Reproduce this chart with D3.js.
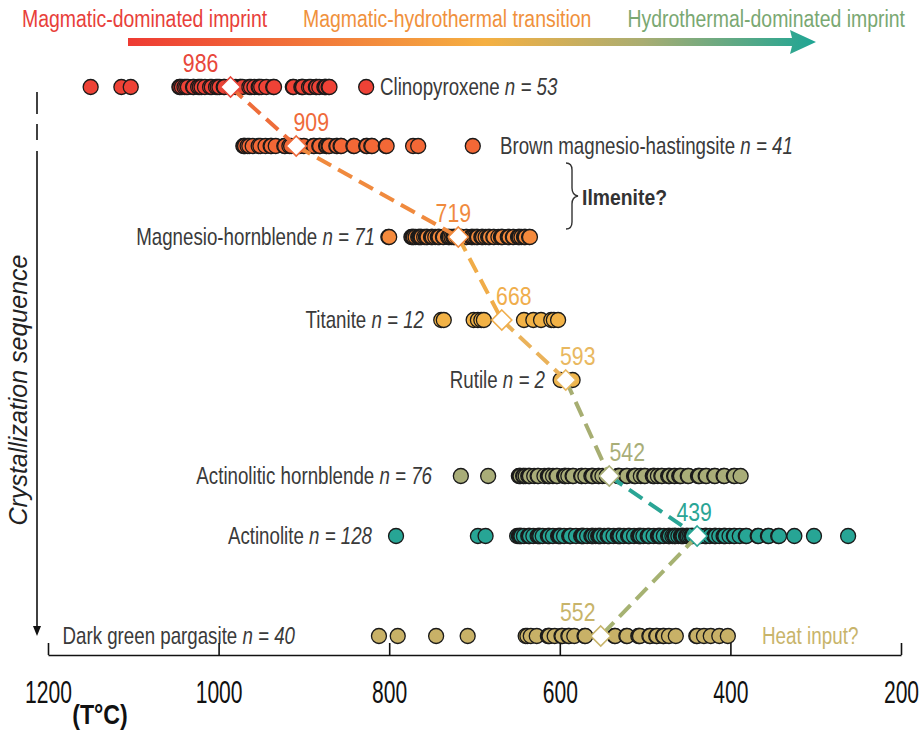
<!DOCTYPE html>
<html>
<head>
<meta charset="utf-8">
<script src="https://cdn.jsdelivr.net/npm/d3@7"></script>
<style>
  body { margin: 0; background: #fff; }
  svg text { font-family: "Liberation Sans", Arial, sans-serif; }
</style>
</head>
<body>
<div id="chart"></div>
<script>
// Minerals in crystallization order
const minerals = ["Clinopyroxene", "Brown magnesio-hastingsite", "Magnesio-hornblende", "Titanite",
    "Rutile", "Actinolitic hornblende", "Actinolite", "Dark green pargasite"];
const counts = [53, 41, 71, 12, 2, 76, 128, 40];
const means = [986, 909, 719, 668, 593, 542, 439, 552];
const fills = ["#ee4236", "#f36836", "#f58a3c", "#f2b246", "#f0b64c", "#a9ad78", "#27a595", "#c8b167"];
const meanColors = ["#e8473a", "#ef6a3a", "#f08a3e", "#f0ae4c", "#e9b860", "#a9ae78", "#2aa595", "#c8b46a"];
const lineColors = ["#e8503a", "#ee6d3a", "#f08a3e", "#f0ac48", "#eab25a", "#a7ae72", "#2aa595", "#a6b272"];

const cpxT = [1150, 1114, 1103, 1046, 1045, 1043, 1040, 1038, 1036, 1030, 1029, 1024, 1022, 1020, 1016, 1010,
    1008, 1003, 1001, 999, 994, 993, 986, 984, 980, 975, 974, 972, 964, 962, 958, 953, 952, 950, 944, 936,
    935, 913, 912, 903, 902, 901, 894, 892, 886, 885, 882, 876, 875, 874, 871, 870, 827];
const brownT = [971, 970, 969, 966, 964, 960, 953, 951, 945, 939, 938, 933, 923, 922, 917, 915, 905, 900,
    889, 888, 882, 881, 874, 873, 871, 870, 862, 861, 857, 856, 842, 841, 827, 826, 821, 820, 804, 803, 772,
    766, 702];
const mhbT = [801, 800, 774, 773, 772, 771, 769, 766, 765, 764, 763, 762, 759, 757, 756, 755, 751, 750, 749,
    746, 743, 742, 741, 737, 736, 731, 730, 729, 727, 725, 724, 723, 720, 716, 715, 710, 709, 704, 703, 702,
    700, 698, 697, 696, 692, 691, 690, 687, 684, 683, 682, 678, 677, 672, 669, 668, 667, 661, 660, 659, 655,
    654, 649, 648, 647, 645, 642, 641, 640, 636, 635];
const ttnT = [739, 736, 701, 696, 692, 689, 642, 631, 622, 610, 607, 602];
const rtT = [599, 585];
const acthbT = [716, 684, 648, 647, 646, 643, 642, 640, 637, 636, 635, 630, 626, 625, 618, 614, 613, 612, 608,
    604, 603, 595, 594, 593, 590, 585, 584, 575, 574, 570, 563, 562, 561, 555, 554, 550, 545, 532, 531, 530,
    522, 521, 513, 512, 511, 505, 501, 500, 491, 490, 489, 485, 481, 480, 473, 472, 471, 466, 465, 460, 459,
    458, 450, 449, 438, 437, 436, 429, 428, 419, 418, 408, 407, 396, 395, 388];
const actT = [792, 696, 687, 650, 648, 647, 646, 645, 642, 637, 636, 635, 631, 626, 625, 624, 623, 620, 614,
    613, 612, 608, 602, 601, 600, 599, 595, 589, 588, 587, 581, 575, 574, 573, 572, 568, 563, 562, 561, 558,
    555, 554, 553, 552, 548, 544, 543, 542, 537, 532, 531, 530, 529, 525, 520, 519, 518, 513, 508, 507, 506,
    505, 502, 497, 496, 495, 490, 485, 484, 483, 482, 478, 473, 472, 471, 468, 466, 465, 464, 461, 458, 457,
    456, 455, 452, 451, 450, 448, 446, 445, 444, 440, 439, 438, 435, 430, 429, 428, 424, 419, 418, 417, 413,
    408, 407, 406, 401, 396, 395, 389, 382, 381, 368, 367, 356, 355, 344, 343, 325, 302, 262];
const pargT = [812, 790, 745, 708, 640, 638, 634, 627, 614, 613, 612, 606, 598, 597, 590, 589, 583, 571, 570,
    536, 535, 522, 521, 508, 507, 506, 495, 494, 487, 486, 479, 478, 472, 464, 440, 439, 431, 423, 413, 403];
const samples = [cpxT, brownT, mhbT, ttnT, rtT, acthbT, actT, pargT];

const xTicks = [1200, 1000, 800, 600, 400, 200];
const stages = ["Magmatic-dominated imprint", "Magmatic-hydrothermal transition", "Hydrothermal-dominated imprint"];
const stageColors = ["#e8403a", "#f0913c", "#7aa872"];

// layout
const W = 919, H = 730;
const rowY = [87, 146, 237, 320, 380, 476, 536, 636];
const labelSide = ["start", "start", "end", "end", "end", "end", "end", "end"];
const labelX = [380, 500, 375, 424, 545, 432, 372, 295];
const meanDx = [-30, 15, -5, 12, 12, 18, -3, -23];

// condensed look: squeeze glyphs horizontally
function narrow(sel, sx) {
    sel.each(function() {
        const t = d3.select(this);
        const tx = +t.attr("x") || 0, ty = +t.attr("y") || 0;
        t.attr("x", null).attr("y", null)
            .attr("transform", `translate(${tx},${ty}) scale(${sx},1)`);
    });
}

const svg = d3.select("#chart").append("svg")
    .attr("width", W).attr("height", H);

const x = d3.scaleLinear().domain([1200, 200]).range([48, 901]);
const y = d3.scaleOrdinal().domain(minerals).range(rowY);

const defs = svg.append("defs");

// stage header with gradient arrow
const hdr = svg.append("g");
hdr.selectAll("text.stage")
    .data(stages)
    .join("text")
    .attr("class", "stage")
    .attr("x", (d, i) => [22, 303, 905][i])
    .attr("y", 27)
    .attr("text-anchor", (d, i) => i === 2 ? "end" : "start")
    .style("font-size", "24px")
    .style("fill", (d, i) => stageColors[i])
    .text(d => d)
    .call(narrow, 0.81);

const arrowGrad = defs.append("linearGradient")
    .attr("id", "arrow-grad")
    .attr("gradientUnits", "userSpaceOnUse")
    .attr("x1", 128).attr("x2", 815).attr("y1", 0).attr("y2", 0);
arrowGrad.selectAll("stop")
    .data([
        {offset: "0%", color: "#ee3b33"},
        {offset: "28%", color: "#f27a3a"},
        {offset: "52%", color: "#f5b042"},
        {offset: "75%", color: "#a9ad72"},
        {offset: "100%", color: "#1fa594"}
    ])
    .join("stop")
    .attr("offset", d => d.offset)
    .attr("stop-color", d => d.color);

hdr.append("path")
    .attr("d", "M128,38 L792,38 L790,30 L816,42 L790,54 L792,46 L128,46 Z")
    .style("fill", "url(#arrow-grad)");

// crystallization sequence arrow on the left
const seq = svg.append("g").style("stroke", "#111").style("stroke-width", 1.6);
seq.append("line").attr("x1", 37).attr("x2", 37).attr("y1", 92).attr("y2", 114);
seq.append("line").attr("x1", 37).attr("x2", 37).attr("y1", 124).attr("y2", 140);
seq.append("line").attr("x1", 37).attr("x2", 37).attr("y1", 151).attr("y2", 628);
svg.append("path")
    .attr("d", "M33,626 L37,636 L41,626 Z")
    .style("fill", "#111");
svg.append("text")
    .attr("transform", "translate(27,390) rotate(-90)")
    .attr("text-anchor", "middle")
    .style("font-size", "25px")
    .style("font-style", "italic")
    .style("fill", "#222")
    .text("Crystallization sequence");

// data points
const pointData = samples.flatMap((vals, i) => vals.map(v => ({ mineral: minerals[i], t: v, i })));
svg.append("g")
    .selectAll("circle")
    .data(pointData)
    .join("circle")
    .attr("cx", d => x(d.t))
    .attr("cy", d => y(d.mineral))
    .attr("r", 7.5)
    .style("fill", d => fills[d.i])
    .style("stroke", "#1a1a1a")
    .style("stroke-width", 1.3);

// dashed line connecting the means
const meanData = means.map((m, i) => ({ mineral: minerals[i], t: m, i }));
svg.append("g")
    .selectAll("line")
    .data(d3.pairs(meanData))
    .join("line")
    .attr("x1", d => x(d[0].t))
    .attr("y1", d => y(d[0].mineral))
    .attr("x2", d => x(d[1].t))
    .attr("y2", d => y(d[1].mineral))
    .style("stroke", d => lineColors[d[1].i])
    .style("stroke-width", 4)
    .style("stroke-dasharray", "16,8");

// mean diamonds
svg.append("g")
    .selectAll("path")
    .data(meanData)
    .join("path")
    .attr("transform", d => `translate(${x(d.t)},${y(d.mineral)})`)
    .attr("d", "M0,-10 L10,0 L0,10 L-10,0 Z")
    .style("fill", "#fff")
    .style("stroke", d => meanColors[d.i])
    .style("stroke-width", 1.6);

svg.append("g")
    .selectAll("text")
    .data(meanData)
    .join("text")
    .attr("x", d => x(d.t) + meanDx[d.i])
    .attr("y", d => y(d.mineral) - 15)
    .attr("text-anchor", "middle")
    .style("font-size", "25px")
    .style("fill", d => meanColors[d.i])
    .text(d => d.t)
    .call(narrow, 0.85);

// mineral labels
const lab = svg.append("g")
    .selectAll("text")
    .data(minerals)
    .join("text")
    .attr("x", (d, i) => labelX[i])
    .attr("y", d => y(d) + 8)
    .attr("text-anchor", (d, i) => labelSide[i])
    .style("font-size", "24px")
    .style("fill", "#3a3a3a");
lab.append("tspan").text(d => d + " ");
lab.append("tspan")
    .style("font-style", "italic")
    .text((d, i) => "n = " + counts[i]);
lab.call(narrow, 0.78);

// Ilmenite brace
svg.append("path")
    .attr("d", "M566,163 Q572,163 572,170 L572,188 Q572,195 578,196 Q572,197 572,204 L572,222 Q572,229 566,229")
    .style("fill", "none")
    .style("stroke", "#333")
    .style("stroke-width", 1.4);
svg.append("text")
    .attr("x", 582).attr("y", 205)
    .style("font-size", "22px")
    .style("font-weight", "bold")
    .style("fill", "#333")
    .text("Ilmenite?")
    .call(narrow, 0.88);

svg.append("text")
    .attr("x", 762).attr("y", 644)
    .style("font-size", "23px")
    .style("fill", meanColors[7])
    .text("Heat input?")
    .call(narrow, 0.82);

// x axis, ticks pointing inward
const axisY = 655;
const xAxis = svg.append("g")
    .attr("transform", `translate(0,${axisY})`)
    .call(d3.axisTop(x).tickValues(xTicks).tickSize(12).tickFormat(d3.format("d")).tickSizeOuter(0));
xAxis.select(".domain").style("stroke", "#111").style("stroke-width", 1.6);
xAxis.selectAll(".tick line").style("stroke", "#111").style("stroke-width", 1.6);
xAxis.selectAll(".tick text")
    .attr("y", 48)
    .attr("dy", null)
    .style("font-size", "31px")
    .style("fill", "#111")
    .style("font-family", "'Liberation Sans', Arial, sans-serif")
    .call(narrow, 0.68);

svg.append("text")
    .attr("x", 100).attr("y", 724)
    .attr("text-anchor", "middle")
    .style("font-size", "27px")
    .style("font-weight", "bold")
    .style("fill", "#111")
    .text("(T°C)")
    .call(narrow, 0.86);
</script>
</body>
</html>
